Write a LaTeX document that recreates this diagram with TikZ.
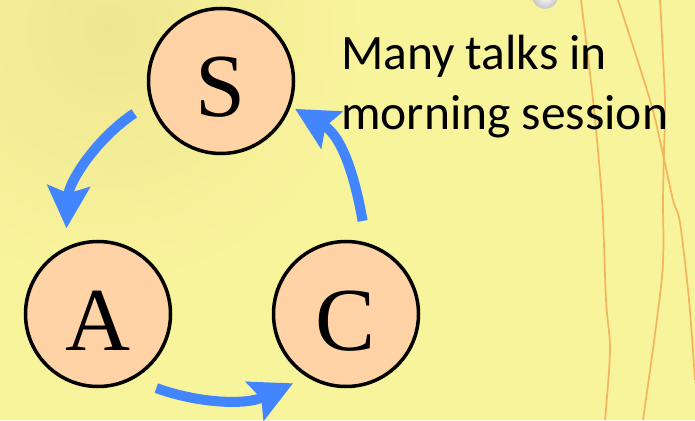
\documentclass[tikz,border=0pt]{standalone}
\usepackage{fontspec}
\setmainfont{Liberation Serif}
\newfontfamily\notefont{Carlito}
\usetikzlibrary{arrows.meta}
\definecolor{paper}{HTML}{F8F49C}
\definecolor{paperdark}{HTML}{F0E692}
\definecolor{peach}{HTML}{FFD3A5}
\definecolor{flowblue}{HTML}{4285FF}
\definecolor{thread}{HTML}{F3B45C}

\begin{document}
\begin{tikzpicture}[x=1pt,y=1pt,
  state/.style={circle,draw=black,line width=3.5pt,fill=peach,minimum size=145pt,inner sep=0pt,
    font=\fontsize{90}{90}\selectfont,text height=72pt,text depth=0pt},
  flow/.style={flowblue,line width=10pt,-{Stealth[length=42pt,width=42pt,inset=7pt]}},
  note/.style={font=\notefont\fontsize{49.5}{60}\selectfont,align=left,inner sep=0pt}]
\useasboundingbox (0,0) rectangle (695,420);
\begin{scope}
\clip (0,0) rectangle (695,420);
\fill[paper] (0,0) rectangle (695,420);
\shade[inner color=paperdark,outer color=paper] (110,390) circle (260);
\shade[inner color=white,outer color=gray!45] (545,424) circle (13);
\foreach \pts in {{(581,420) (593,320) (602,220) (606,120) (610,70) (605,0)},
                  {(618,420) (650,320) (662,270) (673,220) (680,197) (689,120) (695,40)},
                  {(660,420) (665,320) (664,270) (663,220) (662,143) (643,0)}}
  \draw[thread,line width=1.7pt] plot[smooth] coordinates \pts;
\end{scope}
\foreach \n/\x/\y in {S/221/339,A/98/106,C/346/106}
  \node[state] (\n) at (\x,\y) {\n};
\draw[flow,shorten <=19pt,shorten >=19pt] (S.197) to[out=214,in=87] (A.116);
\draw[flow,shorten <=25pt,shorten >=15pt] (A.298) to[out=-20,in=205] (C.238);
\draw[flow,shorten <=22pt,shorten >=5pt] (C.74) to[out=100,in=-30] (S.340);
\node[note,anchor=north west] (talks) at (341,385) {Many talks in\\morning session};
\end{tikzpicture}
\end{document}
